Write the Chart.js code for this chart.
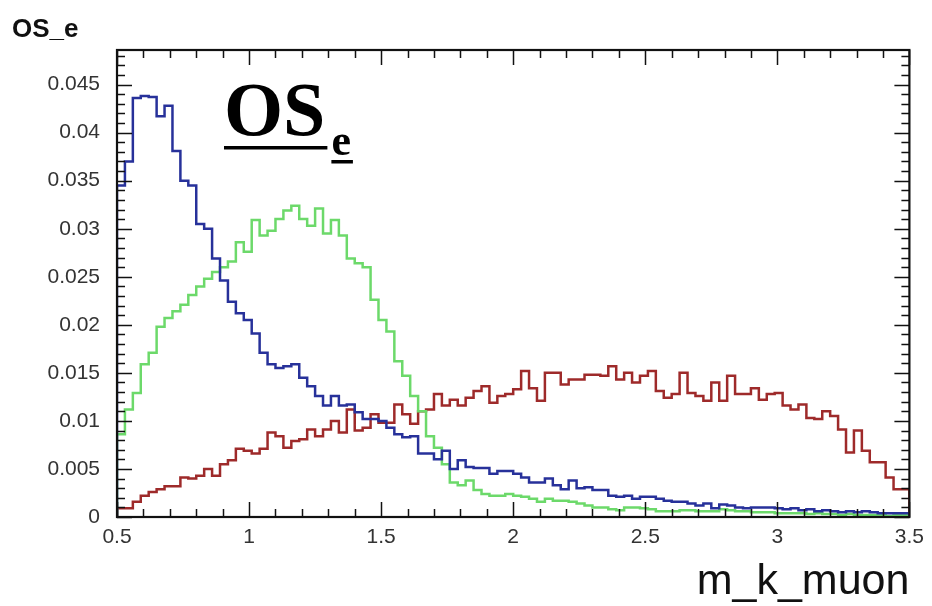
<!DOCTYPE html>
<html>
<head>
<meta charset="utf-8">
<script src="https://cdn.jsdelivr.net/npm/chart.js@4/dist/chart.umd.min.js"></script>
<style>
  body { margin: 0; background: #fff; }
  canvas { display: block; }
</style>
</head>
<body>
<canvas id="hist" width="932" height="606"></canvas>
<script>
// histogram binning: 100 bins of 0.03 between 0.5 and 3.5
const xMin = 0.5;
const binWidth = 0.03;

// bin contents
const blueBins = [
  0.0172, 0.0345, 0.0370, 0.0436, 0.0438, 0.0437, 0.0417, 0.0428, 0.0381, 0.0350,
  0.0345, 0.0305, 0.0300, 0.0269, 0.0246, 0.0224, 0.0212, 0.0205, 0.0191, 0.0171,
  0.0159, 0.0155, 0.0157, 0.0159, 0.0145, 0.0136, 0.0126, 0.0116, 0.0126, 0.0116,
  0.0117, 0.0109, 0.0102, 0.0102, 0.0100, 0.0093, 0.0086, 0.0083, 0.0084, 0.0066,
  0.0066, 0.0060, 0.0069, 0.0050, 0.0059, 0.0052, 0.0051, 0.0051, 0.0045, 0.0048,
  0.0048, 0.0045, 0.0041, 0.0036, 0.0036, 0.0040, 0.0033, 0.0029, 0.0038, 0.0030,
  0.0031, 0.0028, 0.0028, 0.0022, 0.0021, 0.0022, 0.0019, 0.0021, 0.0021, 0.0019,
  0.0017, 0.0016, 0.0016, 0.0014, 0.0012, 0.0014, 0.0009, 0.0013, 0.0012, 0.0010,
  0.0009, 0.0010, 0.0010, 0.0010, 0.0009, 0.0008, 0.0009, 0.0007, 0.0008, 0.0006,
  0.0007, 0.0006, 0.0005, 0.0006, 0.0005, 0.0006, 0.0005, 0.0004, 0.0004, 0.0004
];
const greenBins = [
  0.0038, 0.0086, 0.0112, 0.0129, 0.0159, 0.0171, 0.0198, 0.0207, 0.0214, 0.0221,
  0.0231, 0.0240, 0.0248, 0.0255, 0.0260, 0.0266, 0.0286, 0.0276, 0.0309, 0.0293,
  0.0298, 0.0310, 0.0319, 0.0324, 0.0310, 0.0303, 0.0321, 0.0295, 0.0309, 0.0293,
  0.0269, 0.0264, 0.0260, 0.0226, 0.0205, 0.0193, 0.0162, 0.0147, 0.0126, 0.0110,
  0.0084, 0.0072, 0.0055, 0.0036, 0.0033, 0.0038, 0.0028, 0.0024, 0.0022, 0.0022,
  0.0024, 0.0022, 0.0021, 0.0019, 0.0016, 0.0019, 0.0017, 0.0017, 0.0016, 0.0014,
  0.0012, 0.0010, 0.0010, 0.0008, 0.0007, 0.0010, 0.0010, 0.0009, 0.0008, 0.0006,
  0.0006, 0.0006, 0.0007, 0.0007, 0.0006, 0.0006, 0.0006, 0.0008, 0.0007, 0.0006,
  0.0006, 0.0005, 0.0005, 0.0005, 0.0004, 0.0004, 0.0004, 0.0004, 0.0003, 0.0004,
  0.0003, 0.0003, 0.0002, 0.0003, 0.0002, 0.0002, 0.0002, 0.0002, 0.0001, 0.0002
];
const redBins = [
  0.0004, 0.0009, 0.0009, 0.0016, 0.0022, 0.0026, 0.0029, 0.0032, 0.0032, 0.0041,
  0.0040, 0.0043, 0.0050, 0.0043, 0.0055, 0.0059, 0.0071, 0.0069, 0.0066, 0.0071,
  0.0088, 0.0084, 0.0072, 0.0079, 0.0081, 0.0091, 0.0084, 0.0091, 0.0100, 0.0088,
  0.0112, 0.0090, 0.0093, 0.0107, 0.0098, 0.0098, 0.0117, 0.0107, 0.0097, 0.0110,
  0.0112, 0.0128, 0.0116, 0.0122, 0.0116, 0.0124, 0.0131, 0.0136, 0.0119, 0.0126,
  0.0128, 0.0133, 0.0152, 0.0134, 0.0121, 0.0150, 0.0150, 0.0138, 0.0143, 0.0143,
  0.0148, 0.0148, 0.0147, 0.0157, 0.0143, 0.0150, 0.0140, 0.0147, 0.0152, 0.0131,
  0.0124, 0.0128, 0.0150, 0.0129, 0.0126, 0.0121, 0.0140, 0.0121, 0.0147, 0.0128,
  0.0128, 0.0134, 0.0122, 0.0128, 0.0129, 0.0116, 0.0112, 0.0117, 0.0103, 0.0102,
  0.0110, 0.0105, 0.0091, 0.0067, 0.0090, 0.0069, 0.0057, 0.0057, 0.0041, 0.0029
];

// axis ticks
const xTickValues = [0.5, 1, 1.5, 2, 2.5, 3, 3.5];
const xTickLabels = ['0.5', '1', '1.5', '2', '2.5', '3', '3.5'];
const yTickValues = [0, 0.005, 0.01, 0.015, 0.02, 0.025, 0.03, 0.035, 0.04, 0.045];
const yTickLabels = ['0', '0.005', '0.01', '0.015', '0.02', '0.025', '0.03', '0.035', '0.04', '0.045'];

// turn bin contents into step points (ROOT style outline, starting and ending at 0)
function toSteps(bins) {
  const pts = [{ x: xMin, y: 0 }];
  bins.forEach((v, i) => pts.push({ x: xMin + i * binWidth, y: v }));
  const xEnd = xMin + bins.length * binWidth;
  pts.push({ x: xEnd, y: bins[bins.length - 1] });
  pts.push({ x: xEnd, y: 0 });
  return pts;
}

function histDataset(bins, color) {
  return {
    data: toSteps(bins),
    borderColor: color,
    borderWidth: 2.5,
    stepped: 'after',
    pointRadius: 0,
    fill: false,
    tension: 0
  };
}

// frame with inward major/minor ticks on all four sides, plus the text labels
const rootFrame = {
  id: 'rootFrame',
  afterDatasetsDraw(chart) {
    const { ctx, chartArea: a, scales: { x, y } } = chart;
    ctx.save();
    ctx.strokeStyle = '#111';
    ctx.lineWidth = 1.5;
    ctx.beginPath();
    for (let i = 0; i <= 30; i++) {
      const v = xMin + i * 0.1;
      const px = Math.round(x.getPixelForValue(v)) + 0.5;
      const len = (i % 5 === 0) ? 15 : 8;
      ctx.moveTo(px, a.bottom); ctx.lineTo(px, a.bottom - len);
      ctx.moveTo(px, a.top); ctx.lineTo(px, a.top + len);
    }
    for (let i = 0; i <= 48; i++) {
      const v = i * 0.001;
      const py = Math.round(y.getPixelForValue(v)) + 0.5;
      const len = (i % 5 === 0) ? 15 : 8;
      ctx.moveTo(a.left, py); ctx.lineTo(a.left + len, py);
      ctx.moveTo(a.right, py); ctx.lineTo(a.right - len, py);
    }
    ctx.stroke();
    ctx.lineWidth = 2.2;
    ctx.strokeRect(a.left, a.top, a.right - a.left, a.bottom - a.top);
    ctx.restore();
  },
  afterDraw(chart) {
    const ctx = chart.ctx;
    ctx.save();
    ctx.fillStyle = '#111';
    ctx.textBaseline = 'alphabetic';
    ctx.textAlign = 'left';
    // histogram name, top left
    ctx.font = 'bold 26px "Liberation Sans", Arial, sans-serif';
    ctx.fillText('OS_e', 12, 37);
    // big label in the plot
    ctx.fillStyle = '#000';
    ctx.font = 'bold 76px "Liberation Serif", "Times New Roman", serif';
    ctx.fillText('OS', 224, 135);
    const wOS = ctx.measureText('OS').width;
    ctx.fillRect(224, 146, wOS + 2, 3.5);
    ctx.font = 'bold 44px "Liberation Serif", "Times New Roman", serif';
    const xe = 224 + wOS + 6;
    ctx.fillText('e', xe, 155);
    const we = ctx.measureText('e').width;
    ctx.fillRect(xe, 160, we + 2, 3.5);
    ctx.restore();
  }
};

const ctx = document.getElementById('hist').getContext('2d');
new Chart(ctx, {
  type: 'line',
  data: {
    datasets: [
      histDataset(blueBins, '#27319a'),
      histDataset(greenBins, '#6cd96a'),
      histDataset(redBins, '#9e2a2a')
    ]
  },
  options: {
    responsive: false,
    animation: false,
    layout: { padding: { top: 50, right: 20, bottom: 0, left: 0 } },
    plugins: {
      legend: { display: false },
      tooltip: { enabled: false }
    },
    scales: {
      x: {
        type: 'linear',
        min: 0.5,
        max: 3.5,
        grid: { display: false, drawTicks: false },
        border: { display: false },
        afterBuildTicks: (scale) => { scale.ticks = xTickValues.map(v => ({ value: v })); },
        afterFit: (scale) => { scale.height = 89; },
        ticks: {
          autoSkip: false,
          maxRotation: 0,
          padding: 8,
          color: '#333',
          font: { family: '"Liberation Sans", Arial, sans-serif', size: 21 },
          callback: (v) => xTickLabels[xTickValues.indexOf(v)]
        },
        title: {
          display: true,
          text: 'm_k_muon',
          align: 'end',
          color: '#111',
          padding: { top: 0, bottom: -2 },
          font: { family: '"Liberation Sans", Arial, sans-serif', size: 43, lineHeight: 1.2 }
        }
      },
      y: {
        type: 'linear',
        min: 0,
        max: 0.0486,
        grid: { display: false, drawTicks: false },
        border: { display: false },
        afterBuildTicks: (scale) => { scale.ticks = yTickValues.map(v => ({ value: v })); },
        afterFit: (scale) => { scale.width = 117; },
        ticks: {
          autoSkip: false,
          padding: 17,
          color: '#333',
          font: { family: '"Liberation Sans", Arial, sans-serif', size: 21 },
          callback: (v) => yTickLabels[yTickValues.indexOf(v)]
        }
      }
    }
  },
  plugins: [rootFrame]
});
</script>
</body>
</html>
